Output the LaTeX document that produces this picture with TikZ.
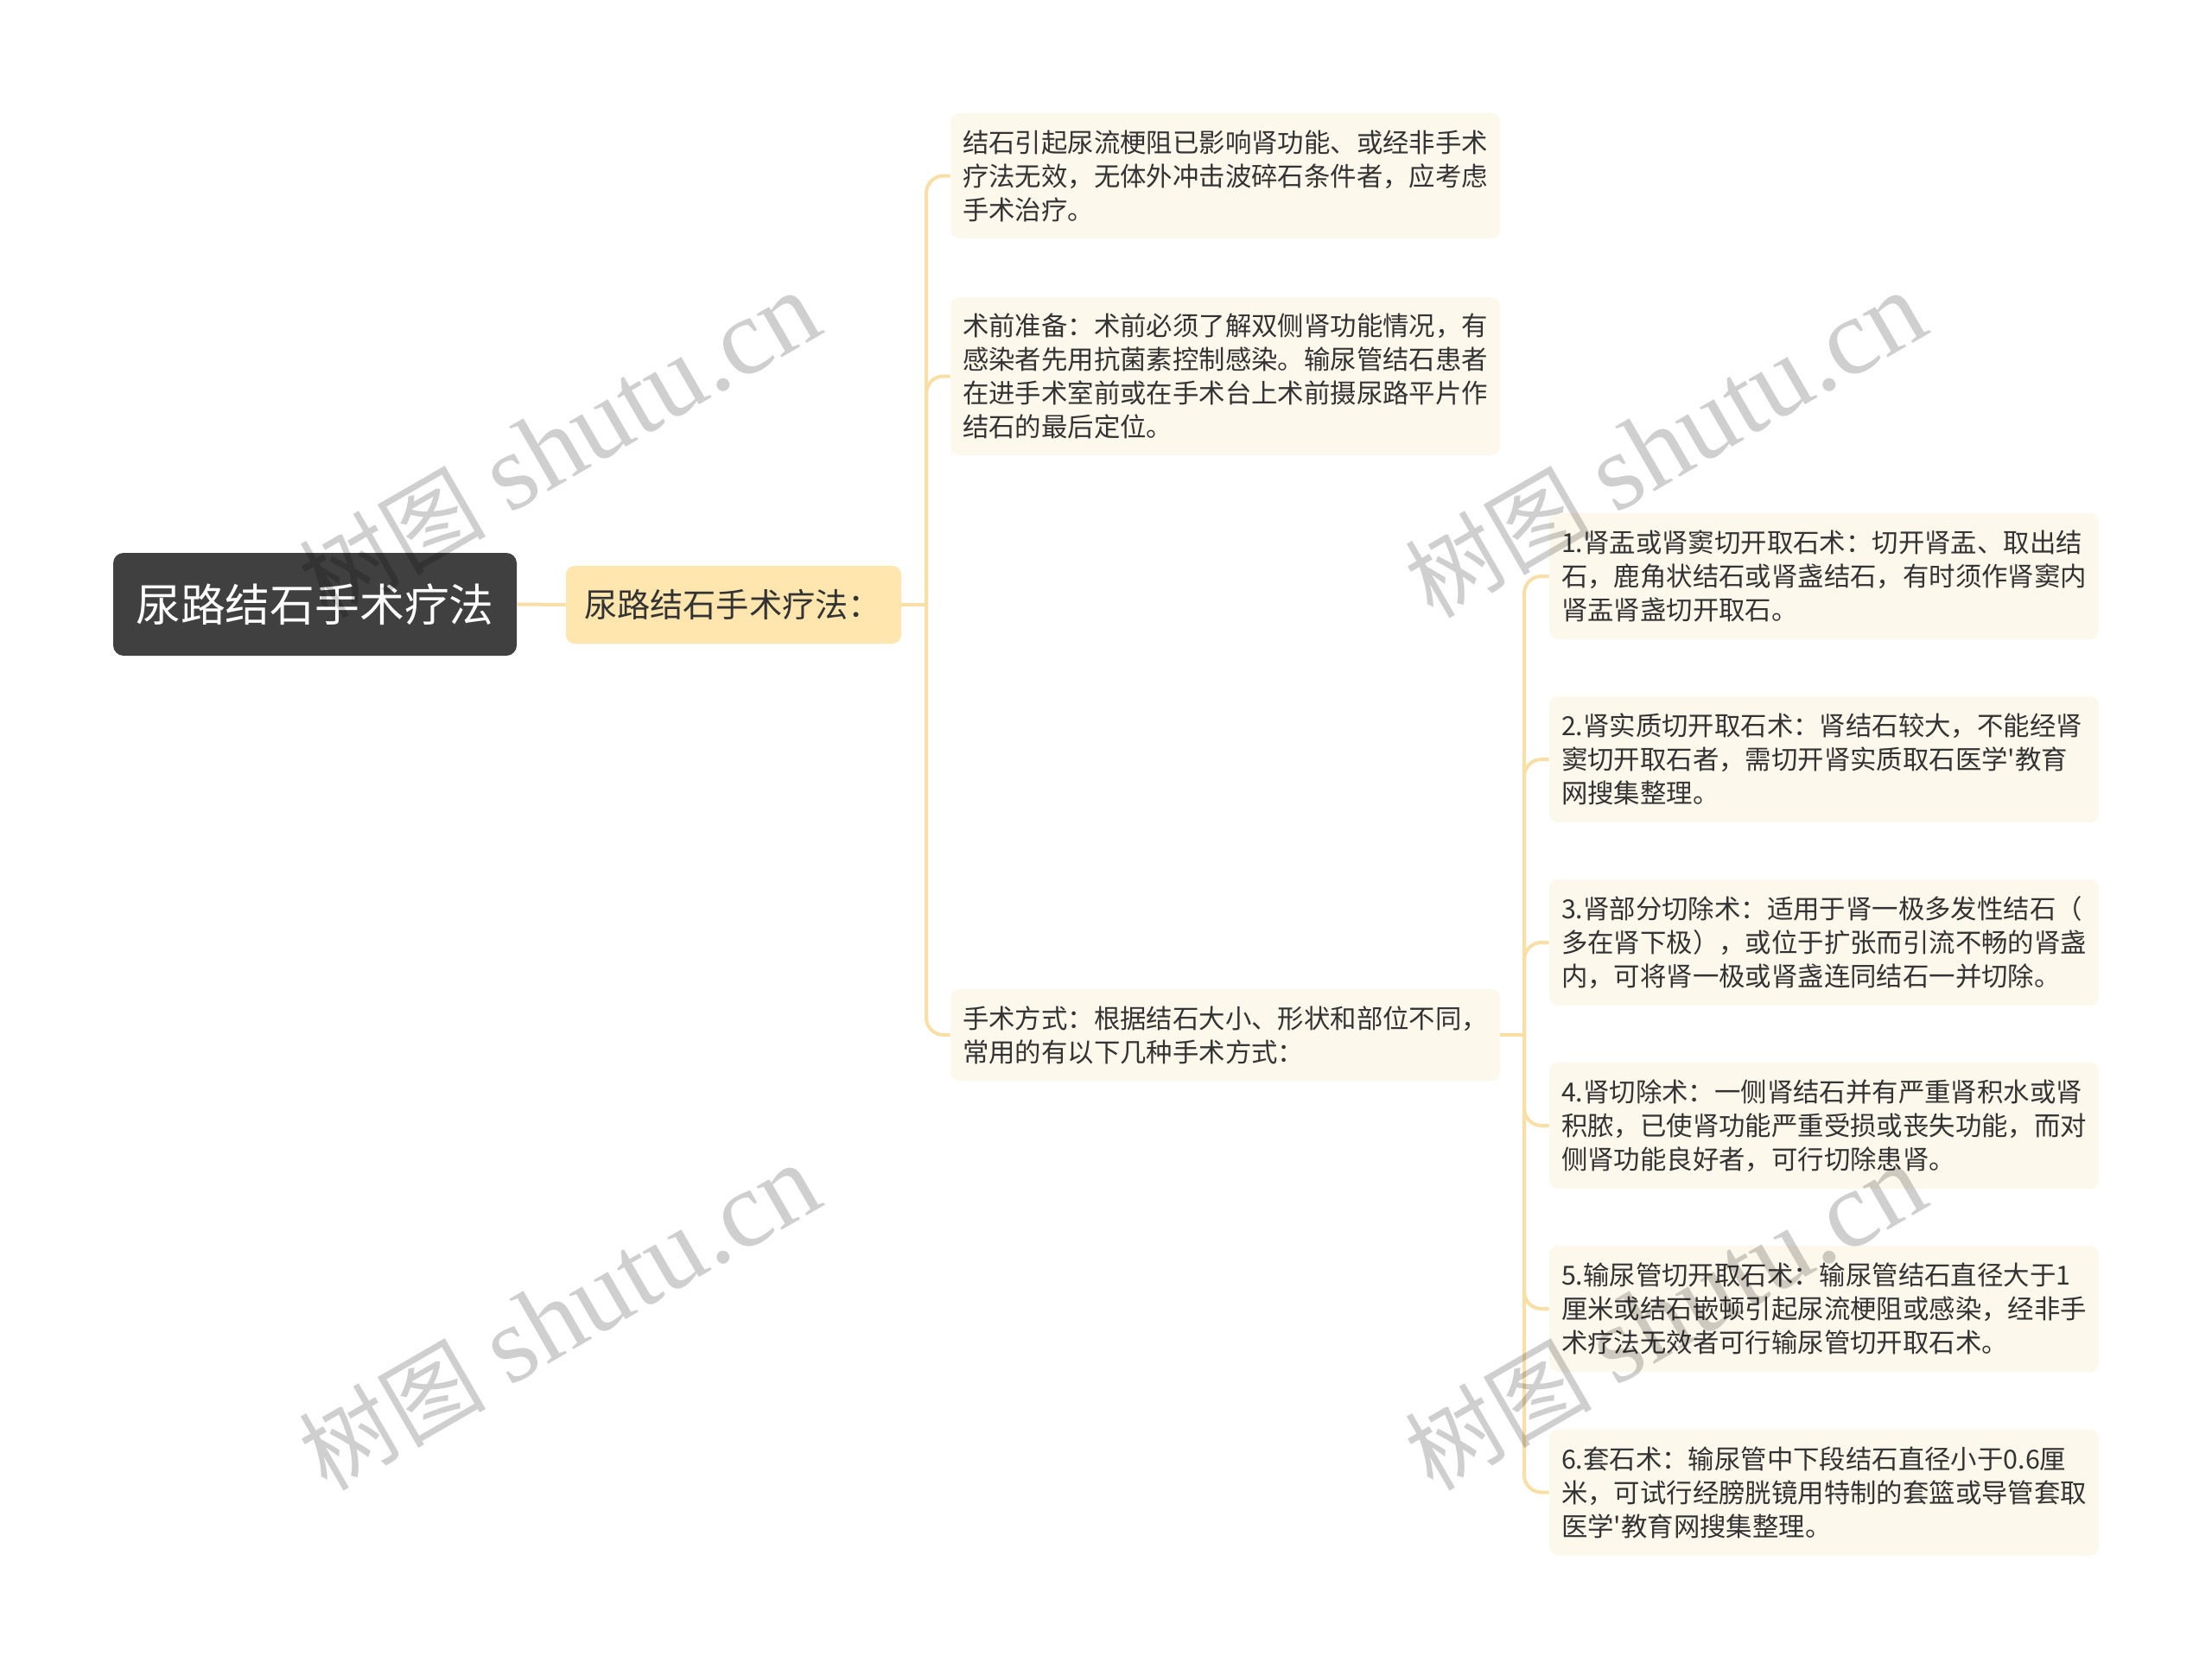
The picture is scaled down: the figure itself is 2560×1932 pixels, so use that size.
\documentclass[tikz,border=0pt]{standalone}
\usepackage{fontspec}
\setmainfont{Noto Sans CJK SC}[Ligatures=TeXOff]
\newfontfamily\wmlatin{Liberation Serif}
\newfontfamily\wmcjk{Noto Sans CJK SC}
\usetikzlibrary{calc}
\definecolor{rootfill}{HTML}{404040}
\definecolor{subfill}{HTML}{FEE6AE}
\definecolor{leaffill}{HTML}{FDF8EC}
\definecolor{connc}{HTML}{F8DFA6}
\definecolor{txt}{HTML}{333333}
\tikzset{
  rootbox/.style={fill=rootfill, rounded corners=6pt, text=white, minimum width=233.5pt, minimum height=59.5pt,
    inner sep=0pt, font=\fontsize{25.9pt}{30pt}\selectfont},
  subbox/.style={fill=subfill, rounded corners=5pt, text=txt, text width=173pt, align=left, inner xsep=10.5pt,
    minimum height=45pt, font=\fontsize{19.1pt}{23pt}\selectfont},
  leafbox/.style={fill=leaffill, rounded corners=5pt, text=txt, text width=304pt, align=left, inner xsep=7pt,
    inner ysep=0pt, font=\fontsize{15.2pt}{19.5pt}\selectfont},
  conn/.style={draw=connc, line width=2pt},
  bconn/.style={draw=connc, line width=2pt, rounded corners=10pt},
  wm/.style={text=black, text opacity=0.19, rotate=30, inner sep=0pt}
}
\begin{document}
\begin{tikzpicture}[x=0.5pt,y=-0.5pt]
\useasboundingbox (0,0) rectangle (2560,1932);
\fill[white] (0,0) rectangle (2560,1932);

% nodes
\node[rootbox] (root) at (364.5,699.5) {尿路结石手术疗法};
\node[subbox] (sub) at (849,700) {尿路结石手术疗法：};

\node[leafbox, minimum height=72.5pt] (l1) at (1418,203.5) {结石引起尿流梗阻已影响肾功能、或经非手术\\疗法无效，无体外冲击波碎石条件者，应考虑\\手术治疗。};
\node[leafbox, minimum height=91.5pt] (l2) at (1418,435.5) {术前准备：术前必须了解双侧肾功能情况，有\\感染者先用抗菌素控制感染。输尿管结石患者\\在进手术室前或在手术台上术前摄尿路平片作\\结石的最后定位。};
\node[leafbox, minimum height=53pt] (l3) at (1418,1198) {手术方式：根据结石大小、形状和部位不同，\\常用的有以下几种手术方式：};

\node[leafbox, minimum height=73pt] (n1) at (2111,667) {1.肾盂或肾窦切开取石术：切开肾盂、取出结\\石，鹿角状结石或肾盏结石，有时须作肾窦内\\肾盂肾盏切开取石。};
\node[leafbox, minimum height=73pt] (n2) at (2111,879) {2.肾实质切开取石术：肾结石较大，不能经肾\\窦切开取石者，需切开肾实质取石医学'教育\\网搜集整理。};
\node[leafbox, minimum height=73pt] (n3) at (2111,1091) {3.肾部分切除术：适用于肾一极多发性结石（\\多在肾下极），或位于扩张而引流不畅的肾盏\\内，可将肾一极或肾盏连同结石一并切除。};
\node[leafbox, minimum height=73pt] (n4) at (2111,1303) {4.肾切除术：一侧肾结石并有严重肾积水或肾\\积脓，已使肾功能严重受损或丧失功能，而对\\侧肾功能良好者，可行切除患肾。};
\node[leafbox, minimum height=73pt] (n5) at (2111,1515) {5.输尿管切开取石术：输尿管结石直径大于1\\厘米或结石嵌顿引起尿流梗阻或感染，经非手\\术疗法无效者可行输尿管切开取石术。};
\node[leafbox, minimum height=73pt] (n6) at (2111,1727.5) {6.套石术：输尿管中下段结石直径小于0.6厘\\米，可试行经膀胱镜用特制的套篮或导管套取\\医学'教育网搜集整理。};

% connectors
\draw[conn] (root.east) -- (sub.west);
\coordinate (s1) at (1072,700);
\draw[conn] (sub.east) -- (s1);
\draw[bconn] (s1) |- (l1.west);
\draw[bconn] (s1) |- (l2.west);
\draw[bconn] (s1) |- (l3.west);

\coordinate (s2) at (1764,1198);
\draw[conn] (l3.east) -- (s2);
\foreach \n in {n1,n2,n3,n4,n5,n6} {
  \draw[bconn] (s2) |- (\n.west);
}

% watermarks
\foreach \p/\q in {647/515, 1927/515, 647/1525, 1927/1525} {
  \node[wm] at (\p,\q) {{\wmcjk\fontsize{54pt}{60pt}\selectfont 树图}\hspace{14pt}{\wmlatin\fontsize{63pt}{70pt}\selectfont shutu.cn}};
}
\end{tikzpicture}
\end{document}
